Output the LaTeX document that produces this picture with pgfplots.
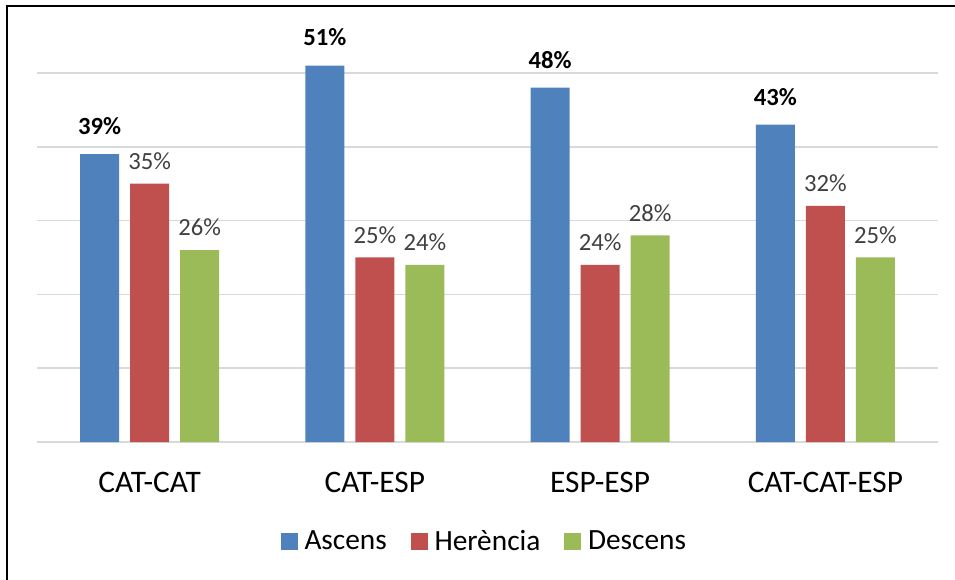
\documentclass[border=0pt]{standalone}
\usepackage{fontspec}
\setmainfont{Carlito}
\usepackage{pgfplots}
\pgfplotsset{compat=1.18}
\definecolor{cA}{HTML}{4F81BD}
\definecolor{cH}{HTML}{C0504D}
\definecolor{cD}{HTML}{9BBB59}
\definecolor{lbl}{HTML}{404040}
\definecolor{gridc}{HTML}{D9D9D9}
\begin{document}
\begin{tikzpicture}
\useasboundingbox (0pt,0pt) rectangle (716.25pt,434.25pt);
\draw[line width=1.5pt] (5.25pt,-5pt) -- (5.25pt,429.75pt) -- (720pt,429.75pt);
\begin{axis}[
  at={(27.75pt,102.75pt)}, anchor=south west,
  scale only axis, width=675.75pt, height=326.6pt,
  xmin=-0.5, xmax=3.5, ymin=0, ymax=59,
  ybar=8.25pt, bar width=29.25pt,
  axis line style={draw=none},
  xtick={0,1,2,3},
  xticklabels={CAT-CAT,CAT-ESP,ESP-ESP,CAT-CAT-ESP},
  xticklabel style={font=\fontsize{23.5pt}{26pt}\selectfont, anchor=center, yshift=-30pt},
  ytick={0,10,20,30,40,50}, yticklabels={},
  major tick length=0pt,
  ymajorgrids, grid style={color=gridc, line width=1.1pt},
  clip=false,
  nodes near coords={\pgfmathprintnumber[assume math mode=true]{\pgfplotspointmeta}\%},
  every node near coord/.append style={font=\fontsize{18.5pt}{22pt}\selectfont, color=lbl, anchor=south, yshift=7pt},
  legend image code/.code={\fill[#1] (0pt,-6.375pt) rectangle (12.75pt,6.375pt);},
  legend columns=-1,
  legend style={draw=none, at={(0.497,-0.228)}, anchor=center,
    font=\fontsize{22pt}{24pt}\selectfont,
    /tikz/every odd column/.append style={column sep=3pt},
    /tikz/every even column/.append style={column sep=16pt}},
]
\addplot[fill=cA, draw=none, every node near coord/.append style={color=black, font=\fontsize{18.5pt}{22pt}\selectfont\bfseries, yshift=4pt}] coordinates {(0,39) (1,51) (2,48) (3,43)};
\addplot[fill=cH, draw=none] coordinates {(0,35) (1,25) (2,24) (3,32)};
\addplot[fill=cD, draw=none] coordinates {(0,26) (1,24) (2,28) (3,25)};
\legend{Ascens,Herència,Descens}
\end{axis}
\end{tikzpicture}
\end{document}
